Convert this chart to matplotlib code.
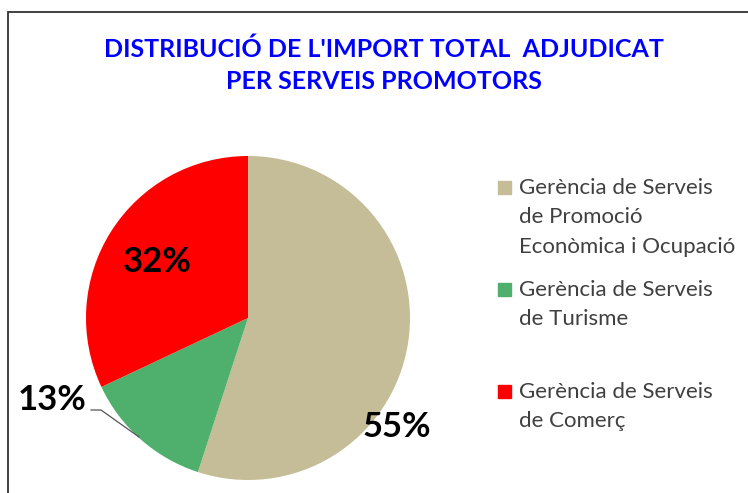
import matplotlib.pyplot as plt
from matplotlib.patches import Rectangle

TITLE = "DISTRIBUCIÓ DE L'IMPORT TOTAL  ADJUDICAT\nPER SERVEIS PROMOTORS"
labels = [
    "Gerència de Serveis\nde Promoció\nEconòmica i Ocupació",
    "Gerència de Serveis\nde Turisme",
    "Gerència de Serveis\nde Comerç",
]
shares = [55, 13, 32]
colors = ["#C4BD97", "#4FAF6C", "#FF0000"]

W, H = 748, 493
fig = plt.figure(figsize=(W / 100, H / 100), dpi=100)

# frame around the chart area, cut at right and bottom like the screenshot
fig.patches.append(Rectangle((8 / W, -0.1), 1.2, (H - 12) / H + 0.1,
                             transform=fig.transFigure, fill=False,
                             edgecolor="#333333", linewidth=1.3))

fig.text(384 / W, 1 - 65 / H, TITLE, ha="center", va="center",
         color="#0000FF", fontsize=18, fontweight="bold", linespacing=1.45,
         family=["Lato", "DejaVu Sans"])

cx, cy, r = 248, 318, 162
ax = fig.add_axes([(cx - r) / W, 1 - (cy + r) / H, 2 * r / W, 2 * r / H])
wedges, _ = ax.pie(shares, colors=colors, startangle=90, counterclock=False,
                   radius=1, wedgeprops=dict(linewidth=0))
ax.set_xlim(-1, 1)
ax.set_ylim(-1, 1)
ax.set_aspect("equal")
ax.axis("off")

lab_font = dict(fontsize=25, fontweight="bold", color="black",
                family=["Lato", "DejaVu Sans"], ha="center", va="center")
# label positions (in radius units)
lab_pos = [((397 - cx) / r, (cy - 427) / r),
           ((52 - cx) / r, (cy - 400) / r),
           ((157 - cx) / r, (cy - 262) / r)]
for s, (x, y) in zip(shares, lab_pos):
    ax.text(x, y, f"{s}%", clip_on=False, **lab_font)

# leader line for the small slice
ax.plot([(91 - cx) / r, (101 - cx) / r, (139 - cx) / r],
        [(cy - 410) / r, (cy - 410) / r, (cy - 437) / r],
        color="#555555", linewidth=0.9, clip_on=False)

# legend
leg_y = [187, 289, 391]
for lab, col, y in zip(labels, colors, leg_y):
    fig.patches.append(Rectangle((498 / W, 1 - (y + 7) / H), 13 / W, 13 / H,
                                 transform=fig.transFigure, color=col))
    fig.text(519 / W, 1 - (y - 9) / H, lab, ha="left", va="top",
             fontsize=16, color="#404040", linespacing=1.58,
             family=["Lato", "DejaVu Sans"])

fig.savefig("out.png", dpi=100)
